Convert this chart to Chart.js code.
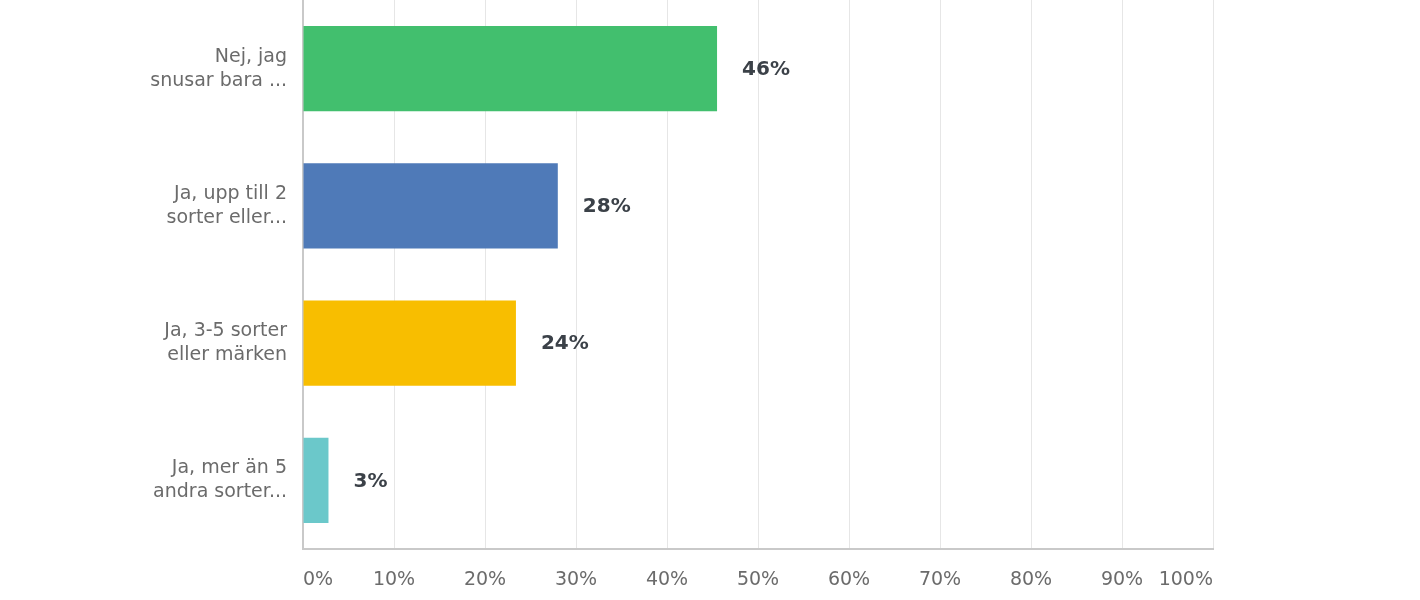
<!DOCTYPE html>
<html>
<head>
<meta charset="utf-8">
<script src="https://cdn.jsdelivr.net/npm/chart.js@4"></script>
<style>
  html, body { margin: 0; padding: 0; background: #fff; }
  #wrap { width: 1420px; height: 600px; position: relative; }
</style>
</head>
<body>
<div id="wrap"><canvas id="snusChart" width="1420" height="600"></canvas></div>
<script>
// svarsalternativ (y-axeln)
const categories = [
  ["Nej, jag", "snusar bara ..."],
  ["Ja, upp till 2", "sorter eller..."],
  ["Ja, 3-5 sorter", "eller märken"],
  ["Ja, mer än 5", "andra sorter..."]
];
// procent per svar
const values = [45.5, 28, 23.4, 2.8];
const valueLabels = ["46%", "28%", "24%", "3%"];
const barColors = ["#42bf6e", "#4f7ab8", "#f8be00", "#6bc8ca"];
const tickLabels = ["0%", "10%", "20%", "30%", "40%", "50%", "60%", "70%", "80%", "90%", "100%"];

const FONT = "'DejaVu Sans', sans-serif";

// ritar procenttexten bredvid varje stapel
const valueLabelPlugin = {
  id: "valueLabels",
  afterDatasetsDraw(chart) {
    const ctx = chart.ctx;
    const meta = chart.getDatasetMeta(0);
    ctx.save();
    ctx.font = "bold 20px " + FONT;
    ctx.fillStyle = "#3b4148";
    ctx.textAlign = "left";
    ctx.textBaseline = "middle";
    meta.data.forEach((bar, i) => {
      ctx.fillText(valueLabels[i], bar.x + 25, bar.y + 1);
    });
    ctx.restore();
  }
};

const ctx = document.getElementById("snusChart").getContext("2d");
new Chart(ctx, {
  type: "bar",
  data: {
    labels: categories,
    datasets: [{
      data: values,
      backgroundColor: barColors,
      borderWidth: 0,
      barPercentage: 0.62,
      categoryPercentage: 1
    }]
  },
  options: {
    indexAxis: "y",
    responsive: false,
    animation: false,
    layout: { padding: { top: 0, right: 207, bottom: 0, left: 0 } },
    plugins: { legend: { display: false }, tooltip: { enabled: false } },
    scales: {
      x: {
        min: 0,
        max: 100,
        ticks: {
          stepSize: 10,
          align: "inner",
          padding: 20,
          color: "#6b6b6b",
          font: { family: FONT, size: 19 },
          callback: (v, i) => tickLabels[i]
        },
        grid: { color: "#e6e6e6", lineWidth: 1, drawTicks: false },
        border: { color: "#c9c9c9", width: 2 },
        afterFit(scale) { scale.height = 51; }
      },
      y: {
        ticks: {
          padding: 8,
          color: "#6b6b6b",
          font: { family: FONT, size: 19, lineHeight: 1.26 }
        },
        grid: { display: false },
        border: { color: "#c9c9c9", width: 2 },
        afterFit(scale) {
          scale.width = 303;
          scale.paddingTop = 0;
          scale.paddingBottom = 0;
        }
      }
    }
  },
  plugins: [valueLabelPlugin]
});
</script>
</body>
</html>
